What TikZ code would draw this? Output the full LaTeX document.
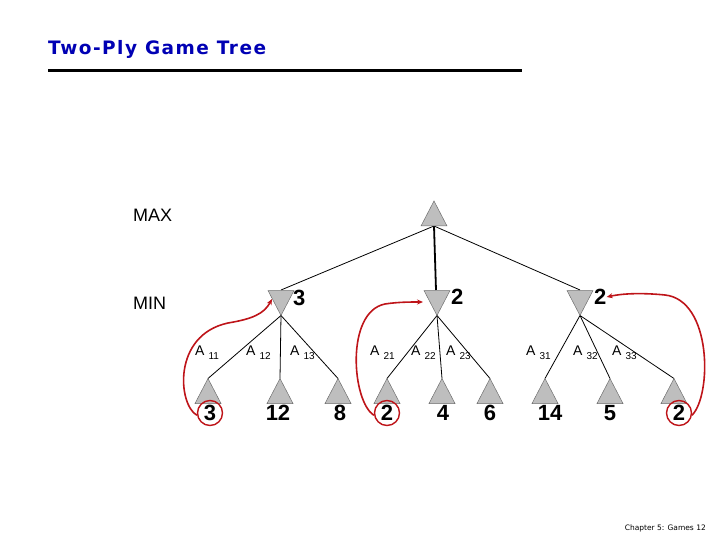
\documentclass[tikz,border=0pt]{standalone}
\usepackage{fontspec}
\setmainfont{Liberation Sans}
\newfontfamily\titlefont{DejaVu Sans}
\newfontfamily\titlefontsp[LetterSpace=8]{DejaVu Sans}
\usetikzlibrary{arrows.meta}
\definecolor{titleblue}{RGB}{0,0,180}
\definecolor{curvered}{RGB}{190,20,25}
\definecolor{trifill}{RGB}{190,190,190}
\definecolor{triedge}{RGB}{110,110,110}
\tikzset{
  trishape/.style={fill=trifill, draw=triedge, line width=0.5pt, line join=miter},
  edge/.style={draw=black, line width=0.8pt},
  plylabel/.style={font=\fontsize{18}{18}\selectfont, anchor=west, inner sep=0pt},
  val/.style={font=\bfseries\fontsize{22}{22}\selectfont, inner sep=0pt},
  alab/.style={font=\fontsize{14}{14}\selectfont, inner sep=0pt},
  redcirc/.style={draw=curvered, line width=1.4pt, circle, minimum size=25pt},
  backup/.style={draw=curvered, line width=1.6pt, -{Stealth[length=6pt,width=5pt]}}
}
% up triangle: #1 name, #2 x, #3 y (centre)
\newcommand{\UpTri}[3]{%
  \coordinate (#1-apex) at (#2,#3-12.5);
  \coordinate (#1-base) at (#2,#3+12.5);
  \path[trishape] (#2,#3-12.5) -- (#2+13,#3+12.5) -- (#2-13,#3+12.5) -- cycle;}
\newcommand{\DownTri}[3]{%
  \coordinate (#1-apex) at (#2,#3+12.5);
  \coordinate (#1-base) at (#2,#3-12.5);
  \path[trishape] (#2,#3+12.5) -- (#2+13,#3-12.5) -- (#2-13,#3-12.5) -- cycle;}
\newcommand{\Alab}[1]{A\hspace{4pt}\raisebox{-4pt}{\fontsize{10}{10}\selectfont #1}}
\begin{document}
\begin{tikzpicture}[x=1pt,y=-1pt]
\useasboundingbox (0,0) rectangle (720,540);
% title
\node[anchor=base west, inner sep=0pt, text=titleblue, font=\titlefontsp\bfseries\fontsize{18.5}{19}\selectfont] (title) at (48,55) {Two-Ply Game Tree};
\draw[line width=3pt] (48,71) -- (522,71);
% ply labels
\node[plylabel] (maxl) at (133,215) {MAX};
\node[plylabel] (minl) at (133,303) {MIN};
% edges (drawn first, triangles on top)
\coordinate (root-base) at (434,226);
\coordinate (m1-top) at (281,290);
\coordinate (m2-top) at (436,290);
\coordinate (m3-top) at (580,290);
\draw[edge] (root-base) -- (m1-top);
\draw[edge, line width=1.8pt] (root-base) -- (m2-top);
\draw[edge] (root-base) -- (m3-top);
\foreach \i/\x in {1/208,2/280,3/338,4/387,5/442,6/490,7/545,8/610,9/674}{
  \coordinate (l\i-apex) at (\x,378.5);
}
\coordinate (m1-apex) at (281,315.5);
\coordinate (m2-apex) at (437,315.5);
\coordinate (m3-apex) at (580,315.5);
\draw[edge] (m1-apex) -- (l1-apex);
\draw[edge] (m1-apex) -- (l2-apex);
\draw[edge] (m1-apex) -- (l3-apex);
\draw[edge] (m2-apex) -- (l4-apex);
\draw[edge] (m2-apex) -- (l5-apex);
\draw[edge] (m2-apex) -- (l6-apex);
\draw[edge] (m3-apex) -- (l7-apex);
\draw[edge] (m3-apex) -- (l8-apex);
\draw[edge] (m3-apex) -- (l9-apex);
% triangles
\UpTri{root}{434}{213.5}
\DownTri{m1}{281}{303}
\DownTri{m2}{437}{303}
\DownTri{m3}{580}{303}
\foreach \i/\x in {1/208,2/280,3/338,4/387,5/442,6/490,7/545,8/610,9/674}{
  \UpTri{l\i}{\x}{391}
}
\node[val, anchor=west] (mv1) at (293,298) {3};
\node[val, anchor=west] (mv2) at (451,297) {2};
\node[val, anchor=west] (mv3) at (594,297) {2};
% edge labels
\node[alab, anchor=west] (a11) at (195,353) {\Alab{11}};
\node[alab, anchor=west] (a12) at (246,353) {\Alab{12}};
\node[alab, anchor=west] (a13) at (290,353) {\Alab{13}};
\node[alab, anchor=west] (a21) at (370,353) {\Alab{21}};
\node[alab, anchor=west] (a22) at (411,353) {\Alab{22}};
\node[alab, anchor=west] (a23) at (446,353) {\Alab{23}};
\node[alab, anchor=west] (a31) at (526,353) {\Alab{31}};
\node[alab, anchor=west] (a32) at (573,353) {\Alab{32}};
\node[alab, anchor=west] (a33) at (612,353) {\Alab{33}};
% leaf values
\node[val] (v1) at (210,413) {3};
\node[val] (v2) at (278,413) {12};
\node[val] (v3) at (340,413) {8};
\node[val] (v4) at (387,413) {2};
\node[val] (v5) at (443,413) {4};
\node[val] (v6) at (490,413) {6};
\node[val] (v7) at (550,413) {14};
\node[val] (v8) at (610,413) {5};
\node[val] (v9) at (679,413) {2};
\node[redcirc] (c1) at (v1) {};
\node[redcirc] (c4) at (v4) {};
\node[redcirc] (c9) at (v9) {};
% backed-up value curves
\coordinate (t1) at (272,299);
\coordinate (t2) at (423,302);
\draw[backup] (c1.190) .. controls (178,405) and (172,335) .. (228,323)
  .. controls (252,319) and (264,314) .. (t1);
\draw[backup] (c4.190) .. controls (352,402) and (345,312) .. (385,304)
  .. controls (398,302) and (410,302) .. (t2);
\draw[backup] (c9.-10) .. controls (712,395) and (712,300) .. (665,295)
  .. controls (645,293) and (625,293) .. (mv3.east);
% footer
\node[anchor=east, inner sep=0pt, font=\titlefont\fontsize{7.5}{8}\selectfont] (foot) at (706,528) {Chapter 5: Games 12};
\end{tikzpicture}
\end{document}
